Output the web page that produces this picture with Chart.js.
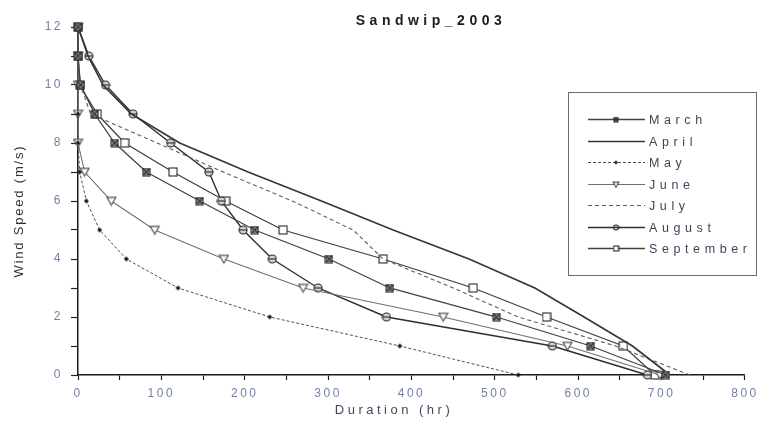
<!DOCTYPE html>
<html>
<head>
<meta charset="utf-8">
<script src="https://cdn.jsdelivr.net/npm/chart.js@4.4.1/dist/chart.umd.min.js"></script>
<style>
  html, body { margin: 0; padding: 0; background: #fff; }
</style>
</head>
<body>
<canvas id="canvas" width="761" height="427"></canvas>
<script>
// wind speed levels (m/s) and hours at or above each level, per month
const speeds = [0, 1, 2, 3, 4, 5, 6, 7, 8, 9, 10, 11, 12];
const march = [705, 615, 502, 374, 301, 212, 146, 82, 44, 20, 3, 0, 0];
const april = [710, 665, 607, 548, 469, 378, 292, 204, 122, 64, 30, 12, 0];
const may = [528, 386, 230, 120, 58, 26, 10, 2, 0, 0, 0, 0, 0];
const june = [698, 587, 438, 270, 175, 92, 40, 8, 0, 0, 0, 0, 0];
const july = [734, 645, 528, 450, 366, 330, 257, 174, 95, 15, 3, 0, 0];
const august = [683, 569, 370, 288, 233, 198, 172, 157, 111, 66, 33, 13, 0];
const september = [692, 654, 562, 474, 366, 246, 177, 114, 56, 23, 2, 0, 0];

const monthNames = ['March', 'April', 'May', 'June', 'July', 'August', 'September'];

// little canvases for the marker shapes
function makeMarker(kind, s) {
  const c = document.createElement('canvas');
  c.width = s + 2; c.height = s + 2;
  const g = c.getContext('2d');
  const m = (s + 2) / 2, h = s / 2;
  g.lineWidth = 1.1;
  g.strokeStyle = '#2a2a2a';
  if (kind === 'xsquare') {
    g.fillStyle = '#9a9a9a';
    g.fillRect(m - h, m - h, s, s);
    g.strokeRect(m - h, m - h, s, s);
    g.beginPath();
    g.moveTo(m - h, m - h); g.lineTo(m + h, m + h);
    g.moveTo(m + h, m - h); g.lineTo(m - h, m + h);
    g.stroke();
  } else if (kind === 'square') {
    g.fillStyle = '#fff';
    g.fillRect(m - h, m - h, s, s);
    g.strokeRect(m - h, m - h, s, s);
  } else if (kind === 'tri') {
    g.strokeStyle = '#505050';
    g.fillStyle = '#fff';
    g.beginPath();
    g.moveTo(m - h, m - h * 0.8); g.lineTo(m + h, m - h * 0.8); g.lineTo(m, m + h * 0.9);
    g.closePath();
    g.fill(); g.stroke();
  } else if (kind === 'ocircle') {
    g.fillStyle = '#d0d0d0';
    g.beginPath(); g.arc(m, m, h, 0, Math.PI * 2); g.fill(); g.stroke();
    g.beginPath(); g.moveTo(m - h, m); g.lineTo(m + h, m); g.stroke();
  } else if (kind === 'dot') {
    g.fillStyle = '#1a1a1a';
    g.beginPath();
    g.moveTo(m, m - h); g.lineTo(m + h, m); g.lineTo(m, m + h); g.lineTo(m - h, m);
    g.closePath(); g.fill();
  }
  return c;
}

const styles = [
  { color: '#424242', width: 1.3, dash: [], marker: 'xsquare', size: 7 },
  { color: '#353535', width: 1.6, dash: [], marker: null, size: 0 },
  { color: '#505050', width: 1, dash: [3, 2], marker: 'dot', size: 5 },
  { color: '#707070', width: 1.1, dash: [], marker: 'tri', size: 9 },
  { color: '#5e5e5e', width: 1.1, dash: [4, 3], marker: null, size: 0 },
  { color: '#2e2e2e', width: 1.4, dash: [], marker: 'ocircle', size: 8 },
  { color: '#404040', width: 1.3, dash: [], marker: 'square', size: 8 }
];
const series = [march, april, may, june, july, august, september];

const datasets = series.map((vals, i) => {
  const st = styles[i];
  return {
    label: monthNames[i],
    data: vals.map((d, k) => ({ x: d, y: speeds[k] })),
    borderColor: st.color,
    borderWidth: st.width,
    borderDash: st.dash,
    pointStyle: st.marker ? makeMarker(st.marker, st.size) : 'circle',
    pointRadius: st.marker ? 4 : 0,
    tension: 0,
    clip: false
  };
});

const legendMarkers = styles.map(st => st.marker ? makeMarker(st.marker, Math.max(4, st.size - 3)) : null);

const decor = {
  id: 'decor',
  beforeDraw(chart) {
    chart.ctx.letterSpacing = '2.5px';
  },
  afterDraw(chart) {
    const ctx = chart.ctx;
    ctx.save();
    ctx.textBaseline = 'middle';
    ctx.textAlign = 'center';

    // title
    ctx.letterSpacing = '4.5px';
    ctx.fillStyle = '#1c1c1c';
    ctx.font = 'bold 14px "Liberation Sans", Arial, sans-serif';
    ctx.fillText('Sandwip_2003', 431, 21);

    // axis titles
    ctx.letterSpacing = '3.5px';
    ctx.fillStyle = '#4e3f5c';
    ctx.font = '13px "Liberation Sans", Arial, sans-serif';
    ctx.fillText('Duration (hr)', 394, 410);

    ctx.save();
    ctx.translate(19, 211);
    ctx.rotate(-Math.PI / 2);
    ctx.letterSpacing = '1.8px';
    ctx.fillStyle = '#333';
    ctx.font = '13px "Liberation Sans", Arial, sans-serif';
    ctx.fillText('Wind Speed (m/s)', 0, 0);
    ctx.restore();

    // legend box
    ctx.letterSpacing = '0px';
    ctx.strokeStyle = '#6a6a6a';
    ctx.lineWidth = 1;
    ctx.strokeRect(568.5, 92.5, 188, 183);

    ctx.textAlign = 'left';
    ctx.font = '12.5px "Liberation Sans", Arial, sans-serif';
    monthNames.forEach((name, i) => {
      const st = styles[i];
      const y = Math.round(119 + i * 21.5) + 0.5;
      ctx.strokeStyle = st.color;
      ctx.lineWidth = st.width;
      ctx.setLineDash(st.dash);
      ctx.beginPath();
      ctx.moveTo(588, y);
      ctx.lineTo(645, y);
      ctx.stroke();
      ctx.setLineDash([]);
      const mk = legendMarkers[i];
      if (mk) ctx.drawImage(mk, 616 - mk.width / 2, y - mk.height / 2);
      ctx.letterSpacing = '4.6px';
      ctx.fillStyle = '#4a3d58';
      ctx.fillText(name, 649, y + 1);
      ctx.letterSpacing = '0px';
    });
    ctx.restore();
  }
};

new Chart(document.getElementById('canvas').getContext('2d'), {
  type: 'line',
  data: { datasets },
  options: {
    responsive: false,
    animation: false,
    events: [],
    layout: { padding: { top: 27, right: 16, left: 0, bottom: 0 } },
    plugins: {
      legend: { display: false },
      title: { display: false },
      tooltip: { enabled: false }
    },
    scales: {
      x: {
        type: 'linear',
        min: 0,
        max: 800,
        afterFit(scale) { scale.height = 52; },
        border: { display: true, color: '#1a1a1a', width: 1.5 },
        grid: { display: true, drawOnChartArea: false, drawTicks: true, tickLength: 5, color: '#222', tickWidth: 1.2 },
        ticks: {
          stepSize: 50,
          autoSkip: false,
          maxRotation: 0,
          padding: 6,
          color: '#7281a3',
          font: { family: '"Liberation Sans", Arial, sans-serif', size: 12 },
          callback: v => (v % 100 === 0 ? String(v) : '')
        }
      },
      y: {
        type: 'linear',
        min: 0,
        max: 12,
        afterFit(scale) { scale.width = 78; },
        border: { display: true, color: '#1a1a1a', width: 1.5 },
        grid: { display: true, drawOnChartArea: false, drawTicks: true, tickLength: 7, color: '#222', tickWidth: 1.2 },
        ticks: {
          stepSize: 1,
          autoSkip: false,
          padding: 8,
          color: '#7281a3',
          font: { family: '"Liberation Sans", Arial, sans-serif', size: 12 },
          callback: v => (v % 2 === 0 ? String(v) : '')
        }
      }
    }
  },
  plugins: [decor]
});
</script>
</body>
</html>
